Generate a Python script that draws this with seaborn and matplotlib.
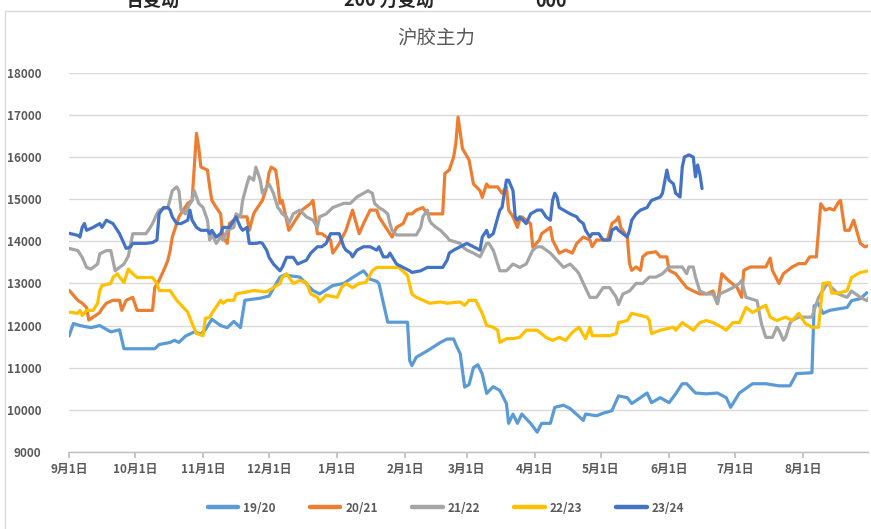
"""
沪胶主力 — 各季节主力合约价格走势（9月1日 ~ 8月31日）
"""

import pandas as pd
import matplotlib.pyplot as plt
import seaborn as sns
from matplotlib.patches import Rectangle

# ── 数据：距 9月1日 的天数 + 收盘价 ─────────────────────────────────────────
d_1920 = [0, 2, 5, 10, 14, 19, 23, 25, 39, 41, 46, 48, 50, 53, 57, 60, 62, 65, 69, 72,
          75, 78, 80, 87, 91, 96, 98, 105, 111, 114, 120, 125, 129, 134, 137, 140, 141, 145,
          154, 155, 156, 158, 163, 169, 172, 175, 176, 178, 180, 182, 184, 186, 188, 190,
          193, 196, 199, 200, 202, 204, 206, 210, 213, 215, 219, 221, 225, 228, 234, 235,
          240, 243, 247, 250, 254, 256, 260, 263, 265, 269, 273, 276, 279, 281, 285, 290,
          295, 299, 301, 305, 311, 317, 323, 328, 331, 338, 339, 341, 343, 346, 354, 356,
          360, 363]
v_1920 = [11750, 12050, 12000, 11950, 12000, 11850, 11900, 11450, 11450, 11550, 11600, 11650,
          11600, 11750, 11850, 11800, 11900, 12150, 12000, 11950, 12100, 11950, 12600, 12650,
          12700, 13150, 13200, 13150, 12830, 12750, 12950, 13000, 13140, 13300, 13100, 13050,
          13000, 12080, 12080, 11170, 11050, 11250, 11400, 11600, 11680, 11680, 11550, 11330,
          10540, 10600, 11000, 11070, 10850, 10390, 10550, 10460, 10150, 9680, 9900, 9680,
          9900, 9680, 9470, 9680, 9680, 10060, 10110, 10030, 9750, 9900, 9860, 9920, 9980,
          10330, 10290, 10150, 10290, 10400, 10170, 10290, 10170, 10380, 10620, 10620, 10400,
          10380, 10400, 10290, 10060, 10400, 10620, 10620, 10570, 10570, 10860, 10880, 12470,
          12520, 12290, 12360, 12430, 12590, 12640, 12780]

d_2021 = [0, 4, 6, 8, 9, 11, 14, 15, 17, 20, 23, 24, 26, 29, 31, 38, 39, 41, 43, 45, 46,
          47, 50, 54, 56, 57, 58, 59, 60, 63, 64, 65, 67, 69, 70, 72, 73, 75, 76, 81, 82, 84,
          85, 88, 90, 91, 92, 94, 95, 96, 97, 99, 100, 104, 106, 110, 111, 113, 115, 119, 120,
          122, 123, 126, 129, 132, 134, 137, 140, 141, 145, 147, 149, 152, 154, 156, 158, 161,
          163, 170, 171, 173, 175, 176, 177, 179, 182, 184, 187, 188, 190, 191, 195, 197, 199,
          200, 202, 204, 205, 206, 210, 211, 214, 215, 219, 220, 223, 226, 229, 231, 234, 237,
          238, 240, 245, 247, 249, 250, 251, 254, 255, 256, 258, 260, 261, 263, 267, 269, 272,
          273, 276, 281, 284, 287, 290, 293, 295, 297, 300, 304, 306, 307, 310, 317, 319, 320,
          323, 325, 329, 332, 335, 337, 340, 342, 344, 346, 348, 350, 351, 353, 355, 357, 360,
          362, 364]
v_2021 = [12840, 12600, 12530, 12430, 12130, 12200, 12310, 12400, 12530, 12600, 12600, 12360,
          12600, 12670, 12360, 12360, 12900, 13070, 13300, 13550, 13780, 14100, 14580, 14900,
          14970, 15760, 16560, 16230, 15760, 15690, 15290, 14970, 14800, 14650, 14100, 13950,
          14420, 14500, 14580, 14580, 14260, 14650, 14740, 14970, 15290, 15620, 15760, 15690,
          15360, 14900, 14970, 14500, 14260, 14580, 14740, 14900, 14970, 14180, 14180, 14030,
          13720, 13870, 13950, 14260, 14740, 14180, 14420, 14740, 14740, 14580, 14260, 14100,
          14330, 14420, 14650, 14650, 14740, 14800, 14650, 14650, 15610, 15690, 16000, 16330,
          16950, 16200, 15930, 15360, 15200, 15040, 15360, 15290, 15290, 15140, 15290, 14740,
          14580, 14330, 14500, 14580, 14420, 13860, 14030, 14180, 14330, 14030, 13720, 13790,
          13720, 13950, 14100, 14030, 13870, 14030, 14030, 14420, 14500, 14580, 14330, 14100,
          13470, 13310, 13390, 13310, 13630, 13720, 13750, 13630, 13630, 13310, 13230, 12900,
          12820, 12750, 12750, 12820, 12520, 13230, 13070, 12900, 12670, 13310, 13390, 13390,
          13600, 13310, 13000, 13230, 13390, 13470, 13470, 13630, 13630, 14890, 14740, 14780,
          14740, 14920, 14970, 14260, 14260, 14500, 13950, 13870, 13900]

d_2122 = [0, 4, 5, 6, 8, 10, 13, 14, 17, 19, 21, 23, 25, 27, 29, 35, 37, 38, 40, 41, 45,
          47, 49, 50, 51, 53, 54, 56, 57, 59, 61, 63, 64, 65, 67, 69, 70, 72, 75, 76, 78, 79,
          81, 82, 84, 85, 87, 88, 90, 91, 93, 95, 96, 97, 99, 100, 102, 105, 108, 111, 113,
          114, 117, 120, 125, 128, 131, 134, 136, 138, 139, 141, 143, 145, 146, 147, 149, 158,
          160, 161, 163, 164, 165, 167, 169, 172, 173, 178, 179, 181, 184, 187, 190, 191, 193,
          196, 199, 202, 205, 208, 211, 213, 215, 219, 222, 225, 228, 231, 232, 234, 237, 240,
          243, 246, 249, 250, 252, 255, 258, 261, 264, 267, 270, 273, 279, 281, 282, 284, 285,
          287, 290, 293, 295, 296, 299, 302, 305, 306, 308, 313, 315, 317, 320, 322, 323, 325,
          326, 328, 329, 332, 338, 341, 345, 347, 350, 354, 356, 360, 363, 364]
v_2122 = [13830, 13780, 13700, 13620, 13380, 13340, 13460, 13700, 13780, 13780, 13300, 13380,
          13460, 13650, 14180, 14180, 14330, 14420, 14650, 14740, 14800, 15200, 15290, 15200,
          14740, 14650, 14800, 14970, 15200, 14900, 14800, 14500, 14030, 14180, 13950, 14100,
          14030, 14260, 14330, 14650, 14580, 14970, 15360, 15530, 15450, 15760, 15450, 15140,
          15290, 15360, 15140, 14800, 14740, 14650, 14580, 14420, 14650, 14740, 14580, 14500,
          14330, 14580, 14650, 14800, 14900, 14900, 15050, 15140, 15200, 15140, 14900, 14800,
          14740, 14650, 14420, 14260, 14150, 14150, 14330, 14580, 14740, 14500, 14420, 14330,
          14260, 14100, 14030, 13950, 13870, 13790, 13720, 13630, 13950, 13950, 13790, 13300,
          13300, 13460, 13380, 13460, 13790, 13870, 13870, 13720, 13550, 13380, 13460, 13300,
          13230, 13000, 12670, 12670, 12900, 12900, 12670, 12500, 12750, 12820, 13000, 13000,
          13150, 13150, 13230, 13390, 13390, 13230, 13390, 13390, 13150, 12820, 12750, 12750,
          12520, 12750, 12820, 12900, 13000, 13070, 12670, 12590, 12050, 11720, 11720, 11960,
          11890, 11650, 11720, 12050, 12120, 12200, 12200, 12670, 13000, 12900, 12750, 12670,
          12820, 12670, 12590, 12670]

d_2223 = [0, 4, 5, 6, 8, 11, 13, 14, 15, 19, 20, 22, 23, 25, 27, 29, 31, 38, 40, 41, 46,
          47, 49, 52, 54, 56, 58, 61, 62, 64, 65, 69, 70, 72, 75, 76, 78, 84, 90, 93, 96, 97,
          99, 102, 105, 108, 110, 113, 114, 117, 122, 124, 126, 129, 132, 135, 138, 140, 150,
          154, 156, 158, 161, 164, 169, 172, 178, 180, 182, 185, 188, 190, 193, 195, 196, 199,
          202, 205, 208, 213, 217, 220, 223, 226, 229, 232, 235, 237, 238, 246, 249, 250, 254,
          256, 260, 263, 264, 265, 269, 275, 276, 279, 281, 284, 287, 290, 293, 297, 299, 302,
          305, 308, 311, 314, 317, 319, 322, 326, 329, 332, 335, 338, 341, 343, 346, 347, 350,
          354, 356, 360, 364]
v_2223 = [12320, 12290, 12360, 12240, 12360, 12360, 12530, 12830, 12950, 13000, 13140, 13230,
          13150, 13020, 13340, 13230, 13140, 13140, 13000, 12830, 12830, 12750, 12600, 12430,
          12320, 12050, 11810, 11760, 12170, 12200, 12290, 12600, 12530, 12600, 12600, 12750,
          12770, 12830, 12800, 12900, 13000, 13140, 13230, 13000, 13070, 13020, 12750, 12670,
          12560, 12720, 12670, 12900, 13000, 12900, 13000, 13020, 13300, 13380, 13380, 13190,
          12750, 12670, 12600, 12530, 12560, 12530, 12560, 12480, 12600, 12600, 12290, 12000,
          11960, 11890, 11600, 11690, 11690, 11720, 11890, 11890, 11720, 11650, 11720, 11650,
          11840, 11960, 11690, 11960, 11760, 11760, 11810, 12070, 12120, 12290, 12240, 12200,
          12120, 11810, 11890, 11960, 11890, 12070, 12000, 11890, 12070, 12120, 12070, 11960,
          11890, 12070, 12070, 12430, 12310, 12400, 12480, 12200, 12120, 12200, 12120, 12290,
          12050, 11960, 11960, 13000, 13020, 12770, 12770, 12830, 13140, 13260, 13300]

d_2324 = [0, 4, 5, 6, 7, 8, 11, 14, 15, 17, 20, 22, 23, 26, 28, 29, 35, 38, 40, 41, 43,
          45, 46, 47, 49, 51, 54, 55, 56, 58, 60, 63, 64, 65, 67, 69, 70, 73, 75, 76, 78, 79,
          81, 82, 85, 87, 88, 90, 91, 93, 96, 97, 99, 102, 104, 108, 110, 113, 115, 117, 119,
          123, 125, 126, 128, 129, 131, 134, 137, 140, 141, 143, 145, 146, 147, 149, 152, 155,
          156, 160, 163, 170, 172, 173, 175, 178, 181, 184, 187, 188, 190, 191, 193, 196, 197,
          199, 200, 202, 203, 204, 205, 208, 210, 213, 215, 217, 219, 220, 221, 222, 223, 225,
          228, 231, 232, 234, 235, 237, 238, 241, 243, 246, 247, 249, 250, 254, 255, 256, 258,
          260, 263, 264, 265, 269, 270, 272, 273, 275, 276, 278, 279, 280, 282, 284, 285, 286,
          287, 288]
v_2324 = [14190, 14140, 14100, 14330, 14420, 14260, 14330, 14420, 14330, 14500, 14420, 14260,
          14180, 13830, 13870, 13950, 13950, 13970, 14030, 14650, 14800, 14800, 14740, 14580,
          14420, 14420, 14500, 14740, 14500, 14330, 14260, 14260, 14180, 14260, 14100, 14180,
          14330, 14330, 14500, 14580, 14330, 14260, 14330, 13950, 13950, 13970, 13950, 13780,
          13620, 13460, 13300, 13380, 13620, 13620, 13460, 13550, 13720, 13870, 13870, 13950,
          14180, 14180, 13870, 13790, 13720, 13630, 13790, 13870, 13870, 13790, 13870, 13630,
          13630, 13720, 13630, 13460, 13380, 13300, 13260, 13300, 13380, 13380, 13550, 13720,
          13790, 13870, 13950, 13870, 13790, 14100, 14260, 14100, 14180, 14740, 14800, 15450,
          15450, 15200, 14580, 14500, 14580, 14420, 14650, 14740, 14740, 14580, 14500, 14970,
          15140, 15050, 14800, 14740, 14650, 14580, 14500, 14420, 14260, 14100, 14180, 14180,
          14030, 14030, 14260, 14330, 14260, 14100, 14260, 14500, 14650, 14740, 14800, 14890,
          14970, 15050, 15140, 15690, 15450, 15360, 15140, 15050, 15760, 16000, 16050, 16000,
          15530, 15810, 15600, 15250]

seasons = ['19/20', '20/21', '21/22', '22/23', '23/24']
colors = ['#5B9BD5', '#ED7D31', '#A5A5A5', '#FFC000', '#4472C4']

# 月初刻度（以非闰年 9月1日 为起点）
month_starts = pd.date_range('2022-09-01', '2023-08-01', freq='MS')
tick_days = (month_starts - month_starts[0]).days
tick_labels = [f'{m.month}月1日' for m in month_starts]

# ── 整理成长表 ────────────────────────────────────────────────────────────────
frames = []
for s, d, v in zip(seasons, [d_1920, d_2021, d_2122, d_2223, d_2324],
                   [v_1920, v_2021, v_2122, v_2223, v_2324]):
    frames.append(pd.DataFrame({'day': d, 'price': v, 'season': s}))
df = pd.concat(frames, ignore_index=True)

# ── 绘图 ──────────────────────────────────────────────────────────────────────
sns.set_theme(style='white')
plt.rcParams['font.family'] = ['Noto Sans CJK SC', 'DejaVu Sans']

W, H = 871, 529
fig = plt.figure(figsize=(W / 100, H / 100), dpi=100)
ax = fig.add_axes([69 / W, 1 - 452 / H, (868 - 69) / W, (452 - 72.7) / H])

sns.lineplot(
    data=df, x='day', y='price', hue='season',
    palette=dict(zip(seasons, colors)), hue_order=seasons,
    estimator=None, sort=False, linewidth=2.3, ax=ax,
)

ax.set_xlim(0, 363.5)
ax.set_ylim(9000, 18000)
ax.set_yticks(range(9000, 18001, 1000))
ax.set_xticks(tick_days)
ax.set_xticklabels(tick_labels)
ax.set_xlabel('')
ax.set_ylabel('')

ax.yaxis.grid(True, color='#D9D9D9', linewidth=1)
ax.set_axisbelow(True)
for side in ['top', 'right', 'left']:
    ax.spines[side].set_visible(False)
ax.spines['bottom'].set_color('#BFBFBF')
ax.spines['bottom'].set_linewidth(1)
ax.tick_params(axis='x', bottom=True, length=4, color='#BFBFBF', pad=4,
               labelsize=8.5, labelcolor='#595959')
ax.tick_params(axis='y', left=False, pad=14, labelsize=8.5, labelcolor='#595959')
for lab in ax.get_xticklabels() + ax.get_yticklabels():
    lab.set_fontweight('bold')

# 图例放到底部
handles, labels = ax.get_legend_handles_labels()
ax.get_legend().remove()
leg = fig.legend(handles, labels, loc='center', bbox_to_anchor=(0.512, 1 - 508 / H),
                 ncol=5, frameon=False, fontsize=8.5, handlelength=2.6,
                 handletextpad=0.4, columnspacing=2.9)
for h in leg.legend_handles:
    h.set_linewidth(3.2)
for t in leg.get_texts():
    t.set_color('#595959')
    t.set_fontweight('bold')

fig.text(436 / W, 1 - 38 / H, '沪胶主力', ha='center', va='center',
         fontsize=14, color='#595959')

# 截图顶部残留的上一行文字 + 图表边框
for x, s in [(152, '合变动'), (389, '200 万变动'), (551, '000')]:
    fig.text(x / W, 1 - 7 / H, s, ha='center', va='baseline',
             fontsize=13, fontweight='bold', color='#262626')
fig.patches.append(Rectangle((5 / W, -0.01), 1.0, 1 - 11 / H + 0.01,
                             transform=fig.transFigure, fill=False,
                             edgecolor='#D9D9D9', linewidth=1))

fig.savefig('out.png', dpi=100)
